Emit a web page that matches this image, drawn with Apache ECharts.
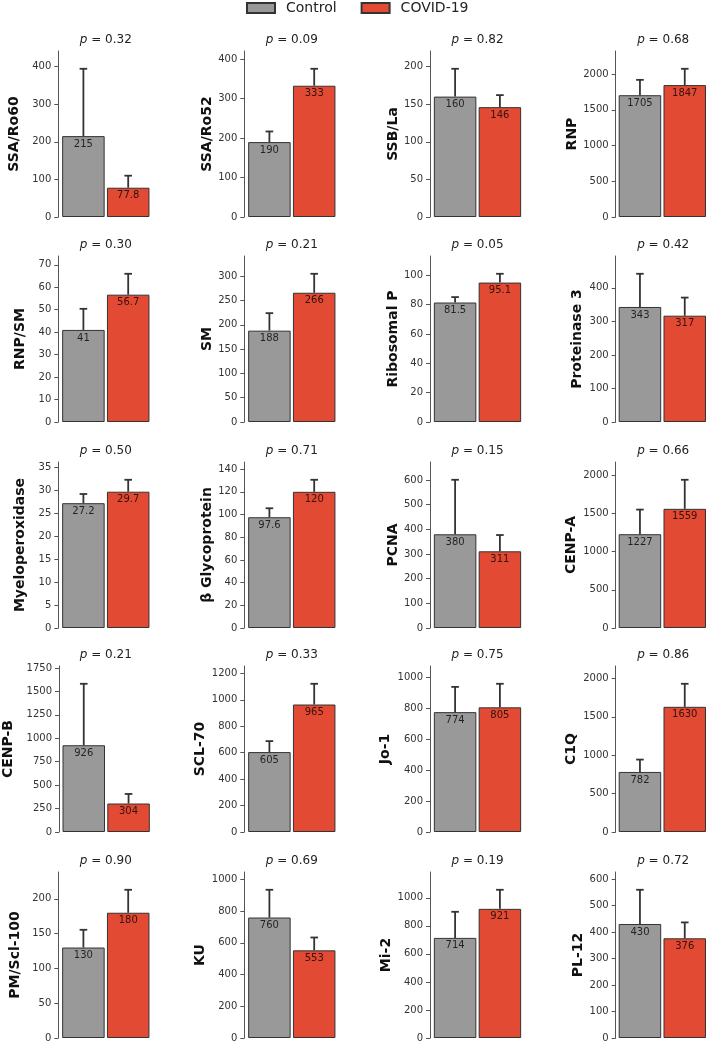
<!DOCTYPE html>
<html>
<head>
<meta charset="utf-8">
<script src="https://cdn.jsdelivr.net/npm/echarts@6/dist/echarts.min.js"></script>
<style>
  html, body { margin: 0; padding: 0; background: #fff; }
  #main { width: 709px; height: 1045px; }
</style>
</head>
<body>
<div id="main"></div>
<script>
var antigens = ['SSA/Ro60', 'SSA/Ro52', 'SSB/La', 'RNP',
                'RNP/SM', 'SM', 'Ribosomal P', 'Proteinase 3',
                'Myeloperoxidase', 'β Glycoprotein', 'PCNA', 'CENP-A',
                'CENP-B', 'SCL-70', 'Jo-1', 'C1Q',
                'PM/Scl-100', 'KU', 'Mi-2', 'PL-12'];
var pValues = ['0.32', '0.09', '0.82', '0.68',
               '0.30', '0.21', '0.05', '0.42',
               '0.50', '0.71', '0.15', '0.66',
               '0.21', '0.33', '0.75', '0.86',
               '0.90', '0.69', '0.19', '0.72'];
var controlMean = [215, 190, 160, 1705, 41, 188, 81.5, 343, 27.2, 97.6, 380, 1227, 926, 605, 774, 782, 130, 760, 714, 430];
var covidMean = [77.8, 333, 146, 1847, 56.7, 266, 95.1, 317, 29.7, 120, 311, 1559, 304, 965, 805, 1630, 180, 553, 921, 376];
var controlErr = [179, 27, 37, 215, 9.4, 36, 3.7, 99, 2.0, 7.9, 221, 322, 656, 83, 163, 161, 25.5, 175, 186, 129];
var covidErr = [32, 43, 16, 228, 9.3, 39, 6.0, 54, 2.6, 10.6, 66, 380, 102, 157, 152, 300, 33, 81, 136, 60];
// y tick labels: step and last tick of each panel
var tickStep = [100, 100, 50, 500, 10, 50, 20, 100, 5, 20, 100, 500, 250, 200, 200, 500, 50, 200, 200, 100];
var tickLast = [400, 400, 200, 2000, 70, 300, 100, 400, 35, 140, 600, 2000, 1750, 1200, 1000, 2000, 200, 1000, 1000, 600];

// layout
var colLeft = [58.3, 244.3, 430, 615.7];
var rowTop = [51, 256, 462, 666, 872];
var plotW = 95, plotH = 166;
var barW = 42.5;
var barOffset = 22.4;
var nameDist = [44, 37, 37, 43, 37.5, 37, 37, 38, 37.5, 37, 37, 44, 51, 43.5, 45, 44, 43, 43.5, 44, 37.5];
var FONT = 'DejaVu Sans';
var GRAY = '#999999', RED = '#E24A33', EDGE = '#333333';

var chart = echarts.init(document.getElementById('main'));

var grids = [], xAxes = [], yAxes = [], series = [], titles = [];

function errRender(params, api) {
    var base = api.coord([api.value(0), api.value(1)]);
    var top = api.coord([api.value(0), api.value(1) + api.value(2)]);
    var x = base[0] + api.value(3) * barOffset;
    var st = { stroke: '#333', lineWidth: 1.8 };
    return {
        type: 'group',
        children: [
            { type: 'line', shape: { x1: x, y1: base[1], x2: x, y2: top[1] }, style: st },
            { type: 'line', shape: { x1: x - 3.8, y1: top[1], x2: x + 3.8, y2: top[1] }, style: st }
        ]
    };
}

antigens.forEach(function (name, i) {
    var r = Math.floor(i / 4), c = i % 4;
    var ticks = [];
    for (var v = 0; v <= tickLast[i] + 1e-9; v += tickStep[i]) ticks.push(Math.round(v * 100) / 100);
    var ymax = 1.12 * Math.max(controlMean[i] + controlErr[i], covidMean[i] + covidErr[i]);

    grids.push({ left: colLeft[c], top: rowTop[r], width: plotW, height: plotH });
    titles.push({
        text: '{i|p} = ' + pValues[i],
        left: colLeft[c] + plotW / 2,
        top: rowTop[r] - 17,
        textAlign: 'center',
        padding: 0,
        textStyle: {
            fontFamily: FONT, fontSize: 12, fontWeight: 'normal', color: '#222',
            rich: { i: { fontFamily: FONT, fontSize: 12, fontStyle: 'italic', color: '#222' } }
        }
    });
    xAxes.push({
        gridIndex: i, type: 'category', data: [''],
        axisLine: { show: false }, axisTick: { show: false }, axisLabel: { show: false }
    });
    yAxes.push({
        gridIndex: i, type: 'value', min: 0, max: ymax,
        name: name, nameLocation: 'middle', nameGap: nameDist[i] - 7,
        nameTextStyle: { fontFamily: FONT, fontSize: 14, fontWeight: 'bold', color: '#111' },
        axisLine: { show: true, lineStyle: { color: '#555', width: 1 } },
        axisTick: { show: true, length: 4, customValues: ticks, lineStyle: { color: '#555' } },
        axisLabel: {
            customValues: ticks, fontFamily: FONT, fontSize: 10, color: '#333', margin: 7,
            formatter: function (val) { return String(val); }
        },
        splitLine: { show: false }
    });
    var lbl = { show: true, position: 'insideTop', distance: 3, fontFamily: FONT, fontSize: 10, color: 'rgba(0,0,0,0.78)' };
    series.push({
        type: 'bar', name: 'Control', xAxisIndex: i, yAxisIndex: i,
        data: [controlMean[i]], barWidth: barW, barGap: '5.4%',
        itemStyle: { color: GRAY, borderColor: EDGE, borderWidth: 1 }, label: lbl
    });
    series.push({
        type: 'bar', name: 'COVID-19', xAxisIndex: i, yAxisIndex: i,
        data: [covidMean[i]], barWidth: barW, barGap: '5.4%',
        itemStyle: { color: RED, borderColor: EDGE, borderWidth: 1 }, label: lbl
    });
    series.push({
        type: 'custom', name: 'err' + i, xAxisIndex: i, yAxisIndex: i,
        renderItem: errRender, z: 5,
        encode: { x: 0, y: 1 },
        data: [[0, controlMean[i], controlErr[i], -1], [0, covidMean[i], covidErr[i], 1]]
    });
});

chart.setOption({
    animation: false,
    backgroundColor: '#fff',
    title: titles,
    legend: {
        data: ['Control', 'COVID-19'],
        icon: 'rect',
        left: 246, top: 1, padding: 0,
        itemWidth: 28, itemHeight: 10, itemGap: 24,
        textStyle: { fontFamily: FONT, fontSize: 14, color: '#222', padding: [0, 0, 0, 6] }
    },
    grid: grids,
    xAxis: xAxes,
    yAxis: yAxes,
    series: series
});
</script>
</body>
</html>
